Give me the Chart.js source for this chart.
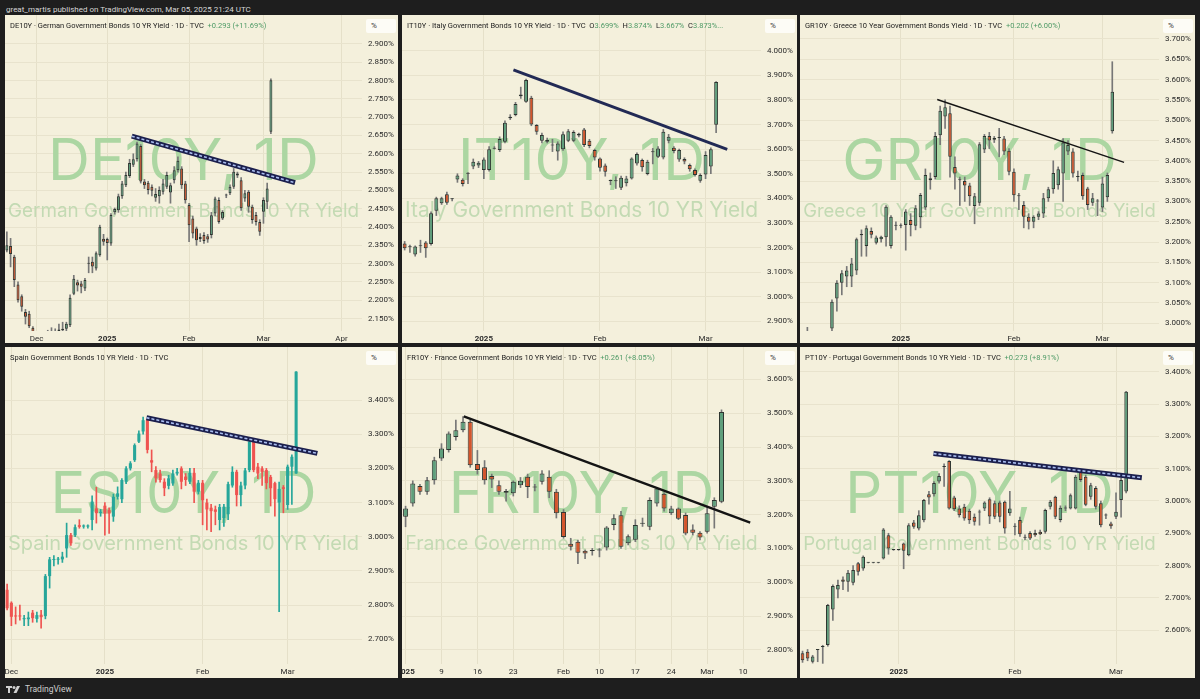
<!DOCTYPE html>
<html>
<head>
<meta charset="utf-8">
<title>Euro area 10Y bond yields</title>
<script src="https://cdn.jsdelivr.net/npm/chart.js@4.4.1/dist/chart.umd.min.js"></script>
<style>
    body{ margin:0; width:1200px; height:699px; background:#1e1e1e; overflow:hidden; font-family:Roboto, "Liberation Sans", sans-serif; }
    #pub{ position:absolute; left:6px; top:5px; font-size:8px; color:#d6d6d6; }
    .panel{ position:absolute; background:#f4f0dc; overflow:hidden; }
    .panel canvas{ position:absolute; left:0; top:0; }
    .hdr{ position:absolute; left:5px; top:6px; font-size:7.5px; color:#1c1c1c; white-space:nowrap; z-index:2; }
    .hdr .g{ color:#4e9a66; }
    .pct{ position:absolute; right:2px; top:4px; width:30px; height:14px; background:#fdfcf6; border-radius:2px; font-size:8px; color:#333; line-height:14px; text-indent:5px; z-index:2; }
    #foot{ position:absolute; left:6px; top:684px; font-size:8.5px; color:#cfcfcf; display:flex; align-items:center; gap:3px; }
</style>
</head>
<body>

<div id="pub">great_martis published on TradingView.com, Mar 05, 2025 21:24 UTC</div>

<div class="panel" id="p-de" style="left:5px;top:15px;width:393px;height:328px">
    <div class="hdr">DE10Y · German Government Bonds 10 YR Yield · 1D · TVC &nbsp;<span class="g">+0.293 (+11.69%)</span></div>
    <div class="pct">%</div>
</div>
<div class="panel" id="p-it" style="left:402px;top:15px;width:395px;height:328px">
    <div class="hdr">IT10Y · Italy Government Bonds 10 YR Yield · 1D · TVC &nbsp;O<span class="g">3.699%</span>&nbsp; H<span class="g">3.874%</span>&nbsp; L<span class="g">3.667%</span>&nbsp; C<span class="g">3.873%...</span></div>
    <div class="pct">%</div>
</div>
<div class="panel" id="p-gr" style="left:800px;top:15px;width:395px;height:328px">
    <div class="hdr">GR10Y · Greece 10 Year Government Bonds Yield · 1D · TVC &nbsp;<span class="g">+0.202 (+6.00%)</span></div>
    <div class="pct">%</div>
</div>
<div class="panel" id="p-es" style="left:5px;top:347px;width:393px;height:331px">
    <div class="hdr">Spain Government Bonds 10 YR Yield · 1D · TVC</div>
    <div class="pct">%</div>
</div>
<div class="panel" id="p-fr" style="left:402px;top:347px;width:395px;height:331px">
    <div class="hdr">FR10Y · France Government Bonds 10 YR Yield · 1D · TVC &nbsp;<span class="g">+0.261 (+8.05%)</span></div>
    <div class="pct">%</div>
</div>
<div class="panel" id="p-pt" style="left:800px;top:347px;width:395px;height:331px">
    <div class="hdr">PT10Y · Portugal Government Bonds 10 YR Yield · 1D · TVC &nbsp;<span class="g">+0.273 (+8.91%)</span></div>
    <div class="pct">%</div>
</div>

<div id="foot">
    <svg width="16" height="9" viewBox="0 0 16 9"><rect x="0" y="1" width="6" height="2" fill="#cfcfcf"/><rect x="2" y="1" width="2" height="7" fill="#cfcfcf"/><circle cx="8" cy="2.5" r="1.5" fill="#cfcfcf"/><polygon points="11,1 14,1 10.5,8 7.5,8" fill="#cfcfcf"/></svg>
    <span>TradingView</span>
</div>

<script>
// -------- Data: daily candles [open, high, low, close] in % --------

const deBars = [
    [2.336,2.387,2.332,2.350],[2.348,2.369,2.291,2.326],[2.319,2.323,2.237,2.255],[2.243,2.250,2.195,2.200],
    [2.211,2.215,2.170,2.182],[2.168,2.175,2.135,2.155],[2.163,2.170,2.125,2.129],[2.125,2.128,2.100,2.110],
    [2.090,2.112,2.050,2.060],[2.060,2.080,2.030,2.050],[2.050,2.100,2.040,2.080],[2.080,2.118,2.070,2.105],
    [2.105,2.125,2.095,2.110],[2.110,2.122,2.100,2.115],[2.115,2.135,2.105,2.120],[2.118,2.140,2.110,2.122],
    [2.122,2.140,2.115,2.136],[2.132,2.215,2.128,2.207],[2.218,2.268,2.215,2.259],[2.249,2.255,2.225,2.240],
    [2.246,2.252,2.220,2.237],[2.232,2.260,2.226,2.255],[2.301,2.318,2.275,2.300],[2.305,2.318,2.275,2.292],
    [2.287,2.332,2.282,2.328],[2.323,2.405,2.320,2.401],[2.368,2.380,2.350,2.360],[2.367,2.370,2.310,2.356],
    [2.355,2.437,2.350,2.433],[2.440,2.452,2.435,2.449],[2.446,2.490,2.440,2.484],[2.484,2.525,2.478,2.519],
    [2.514,2.550,2.510,2.542],[2.539,2.585,2.535,2.575],[2.570,2.600,2.565,2.585],[2.585,2.632,2.580,2.628],
    [2.621,2.625,2.520,2.524],[2.524,2.530,2.505,2.514],[2.521,2.525,2.490,2.501],[2.510,2.515,2.485,2.499],
    [2.480,2.505,2.470,2.490],[2.484,2.510,2.465,2.501],[2.496,2.530,2.490,2.519],[2.510,2.550,2.505,2.542],
    [2.494,2.520,2.465,2.514],[2.528,2.565,2.520,2.555],[2.555,2.592,2.550,2.581],[2.560,2.565,2.505,2.514],
    [2.519,2.525,2.465,2.473],[2.460,2.465,2.360,2.405],[2.423,2.430,2.370,2.382],[2.396,2.400,2.350,2.364],
    [2.373,2.382,2.360,2.367],[2.378,2.385,2.355,2.362],[2.375,2.380,2.358,2.366],[2.378,2.440,2.370,2.432],
    [2.437,2.482,2.430,2.478],[2.474,2.480,2.410,2.414],[2.423,2.445,2.420,2.441],[2.486,2.490,2.480,2.488],
    [2.492,2.515,2.488,2.510],[2.510,2.560,2.505,2.551],[2.546,2.550,2.535,2.541],[2.528,2.535,2.445,2.451],
    [2.478,2.500,2.470,2.492],[2.496,2.500,2.440,2.455],[2.455,2.460,2.410,2.419],[2.433,2.440,2.405,2.414],
    [2.414,2.420,2.377,2.387],[2.442,2.480,2.410,2.474],[2.469,2.520,2.450,2.505],[2.660,2.805,2.655,2.801]
];
const deTimeLabels = ['Dec', '2025', 'Feb', 'Mar', 'Apr'];
const deTimeBars = [8, 27, 49, 69, 90];
const dePriceTicks = [2.15, 2.2, 2.25, 2.3, 2.35, 2.4, 2.45, 2.5, 2.55, 2.6, 2.65, 2.7, 2.75, 2.8, 2.85, 2.9];
const deTrend = [[33.6, 2.648], [77.5, 2.521]];

const itBars = [
    [3.217,3.225,3.190,3.197],[3.204,3.210,3.180,3.201],[3.172,3.207,3.165,3.204],[3.205,3.230,3.180,3.208],
    [3.221,3.225,3.160,3.197],[3.214,3.345,3.210,3.339],[3.350,3.405,3.330,3.400],[3.380,3.405,3.375,3.400],
    [3.417,3.425,3.375,3.382],[3.396,3.400,3.390,3.397],[3.477,3.500,3.465,3.493],[3.476,3.480,3.450,3.458],
    [3.500,3.505,3.460,3.502],[3.529,3.560,3.520,3.549],[3.533,3.550,3.525,3.545],[3.515,3.565,3.480,3.558],
    [3.515,3.610,3.510,3.600],[3.602,3.610,3.600,3.604],[3.596,3.650,3.590,3.641],[3.630,3.715,3.625,3.707],
    [3.725,3.740,3.720,3.732],[3.739,3.790,3.735,3.783],[3.815,3.852,3.806,3.822],[3.793,3.885,3.790,3.881],
    [3.809,3.815,3.695,3.700],[3.698,3.700,3.660,3.671],[3.634,3.665,3.625,3.657],[3.637,3.645,3.625,3.630],
    [3.615,3.640,3.590,3.618],[3.590,3.630,3.555,3.623],[3.600,3.670,3.595,3.660],[3.634,3.680,3.630,3.673],
    [3.634,3.675,3.630,3.670],[3.655,3.665,3.650,3.662],[3.680,3.685,3.610,3.617],[3.634,3.640,3.605,3.613],
    [3.596,3.600,3.555,3.566],[3.562,3.565,3.510,3.524],[3.533,3.540,3.490,3.508],[3.470,3.475,3.455,3.471],
    [3.470,3.488,3.440,3.469],[3.443,3.490,3.435,3.484],[3.461,3.490,3.450,3.481],[3.481,3.565,3.478,3.562],
    [3.542,3.585,3.535,3.580],[3.556,3.560,3.510,3.526],[3.499,3.555,3.495,3.549],[3.587,3.603,3.540,3.588],
    [3.569,3.610,3.565,3.603],[3.566,3.680,3.560,3.671],[3.634,3.660,3.625,3.650],[3.606,3.610,3.585,3.592],
    [3.558,3.600,3.550,3.596],[3.560,3.565,3.540,3.550],[3.535,3.540,3.510,3.518],[3.515,3.520,3.490,3.495],
    [3.472,3.500,3.465,3.495],[3.497,3.590,3.480,3.576],[3.529,3.605,3.500,3.599],[3.699,3.874,3.667,3.873]
];
const itTimeLabels = ['2025', 'Feb', 'Mar'];
const itTimeBars = [15, 37, 57];
const itPriceTicks = [2.9, 3.0, 3.1, 3.2, 3.3, 3.4, 3.5, 3.6, 3.7, 3.8, 3.9, 4.0];
const itTrend = [[20.6, 3.922], [61.1, 3.599]];

const grBars = [
    [2.950,2.965,2.930,2.940],[2.940,2.990,2.930,2.960],[2.960,2.970,2.920,2.930],[2.930,2.950,2.900,2.910],
    [2.910,2.940,2.890,2.930],[2.930,2.970,2.920,2.960],[2.987,3.058,2.980,3.053],[3.061,3.105,3.030,3.100],
    [3.100,3.130,3.070,3.123],[3.115,3.140,3.090,3.130],[3.115,3.160,3.090,3.147],[3.130,3.210,3.120,3.207],
    [3.217,3.230,3.165,3.220],[3.190,3.240,3.165,3.234],[3.227,3.235,3.210,3.218],[3.198,3.215,3.195,3.211],
    [3.207,3.215,3.200,3.213],[3.212,3.290,3.190,3.287],[3.190,3.265,3.185,3.262],[3.240,3.250,3.230,3.241],
    [3.240,3.245,3.235,3.241],[3.242,3.280,3.180,3.275],[3.254,3.270,3.215,3.242],[3.240,3.290,3.230,3.283],
    [3.261,3.320,3.235,3.316],[3.285,3.380,3.280,3.365],[3.352,3.370,3.330,3.357],[3.360,3.470,3.355,3.461],
    [3.463,3.535,3.440,3.523],[3.509,3.550,3.480,3.532],[3.517,3.535,3.360,3.410],[3.385,3.410,3.330,3.369],
    [3.352,3.360,3.290,3.353],[3.350,3.360,3.300,3.339],[3.339,3.345,3.290,3.313],[3.289,3.320,3.245,3.313],
    [3.297,3.445,3.290,3.441],[3.428,3.465,3.420,3.461],[3.461,3.470,3.430,3.450],[3.452,3.460,3.445,3.456],
    [3.456,3.480,3.410,3.457],[3.455,3.460,3.415,3.423],[3.425,3.430,3.365,3.373],[3.373,3.380,3.300,3.315],
    [3.313,3.320,3.280,3.314],[3.291,3.300,3.235,3.262],[3.262,3.270,3.232,3.250],[3.250,3.265,3.235,3.262],
    [3.262,3.275,3.255,3.270],[3.270,3.320,3.260,3.308],[3.308,3.335,3.300,3.330],[3.330,3.400,3.320,3.370],
    [3.340,3.385,3.330,3.379],[3.369,3.455,3.300,3.445],[3.423,3.450,3.415,3.439],[3.423,3.430,3.360,3.369],
    [3.360,3.375,3.350,3.361],[3.365,3.370,3.305,3.313],[3.332,3.335,3.280,3.291],[3.297,3.320,3.290,3.308],
    [3.300,3.305,3.265,3.301],[3.285,3.360,3.275,3.344],[3.310,3.370,3.300,3.365],[3.473,3.644,3.468,3.570]
];
const grTimeLabels = ['2025', 'Feb', 'Mar'];
const grTimeBars = [20, 43, 61];
const grPriceTicks = [3.0, 3.05, 3.1, 3.15, 3.2, 3.25, 3.3, 3.35, 3.4, 3.45, 3.5, 3.55, 3.6, 3.65, 3.7];
const grTrend = [[27.4, 3.551], [65.4, 3.396]];

const esBars = [
    [2.845,2.862,2.786,2.791],[2.807,2.810,2.740,2.766],[2.769,2.795,2.745,2.767],[2.770,2.800,2.756,2.767],
    [2.759,2.770,2.740,2.762],[2.759,2.780,2.740,2.764],[2.778,2.785,2.750,2.762],[2.760,2.780,2.750,2.771],
    [2.772,2.785,2.733,2.765],[2.768,2.890,2.760,2.885],[2.885,2.940,2.850,2.934],[2.932,2.945,2.915,2.934],
    [2.933,2.940,2.920,2.935],[2.934,2.955,2.925,2.942],[2.966,3.040,2.940,3.005],[3.005,3.010,2.975,2.981],
    [3.005,3.035,3.000,3.028],[3.034,3.050,3.025,3.029],[3.030,3.035,3.025,3.031],[3.030,3.035,3.025,3.031],
    [3.049,3.120,3.020,3.103],[3.083,3.145,3.040,3.069],[3.070,3.080,3.060,3.072],[3.091,3.100,3.005,3.068],
    [3.078,3.085,3.010,3.068],[3.059,3.125,3.045,3.117],[3.117,3.146,3.110,3.127],[3.110,3.170,3.100,3.166],
    [3.161,3.205,3.155,3.200],[3.200,3.220,3.195,3.215],[3.224,3.272,3.220,3.268],[3.278,3.310,3.275,3.302],
    [3.308,3.350,3.300,3.341],[3.341,3.345,3.245,3.254],[3.224,3.254,3.190,3.217],[3.195,3.205,3.160,3.171],
    [3.185,3.195,3.160,3.166],[3.161,3.170,3.120,3.142],[3.149,3.180,3.140,3.171],[3.156,3.195,3.150,3.185],
    [3.185,3.200,3.180,3.190],[3.200,3.205,3.140,3.161],[3.176,3.185,3.150,3.166],[3.161,3.200,3.155,3.187],
    [3.187,3.200,3.100,3.132],[3.132,3.165,3.125,3.158],[3.158,3.165,3.035,3.107],[3.100,3.110,3.020,3.080],
    [3.085,3.095,3.015,3.075],[3.080,3.090,3.035,3.073],[3.049,3.095,3.020,3.087],[3.055,3.095,3.030,3.088],
    [3.066,3.160,3.050,3.154],[3.150,3.205,3.145,3.190],[3.190,3.195,3.090,3.122],[3.122,3.160,3.090,3.150],
    [3.150,3.200,3.140,3.194],[3.195,3.285,3.190,3.278],[3.278,3.280,3.190,3.195],[3.205,3.215,3.170,3.185],
    [3.200,3.205,3.150,3.190],[3.195,3.200,3.140,3.157],[3.175,3.180,3.090,3.142],[3.157,3.160,3.060,3.110],
    [3.100,3.160,2.781,3.140],[3.145,3.150,3.070,3.140],[3.093,3.210,3.080,3.205],[3.205,3.240,3.095,3.234],
    [3.185,3.483,3.185,3.483]
];
const esTimeLabels = ['Dec', '2025', 'Feb', 'Mar'];
const esTimeBars = [1, 23, 46, 66];
const esPriceTicks = [2.7, 2.8, 2.9, 3.0, 3.1, 3.2, 3.3, 3.4];
const esTrend = [[32.8, 3.348], [73.0, 3.244]];

const frBars = [
    [3.194,3.225,3.164,3.218],[3.233,3.300,3.225,3.292],[3.285,3.290,3.260,3.268],[3.268,3.310,3.260,3.302],
    [3.302,3.370,3.290,3.361],[3.366,3.410,3.360,3.396],[3.391,3.445,3.385,3.440],[3.430,3.480,3.420,3.450],
    [3.450,3.490,3.445,3.475],[3.475,3.480,3.340,3.346],[3.350,3.390,3.320,3.332],[3.340,3.360,3.290,3.302],
    [3.314,3.320,3.280,3.304],[3.287,3.300,3.260,3.268],[3.270,3.275,3.240,3.265],[3.263,3.300,3.255,3.297],
    [3.287,3.310,3.280,3.300],[3.312,3.320,3.250,3.282],[3.280,3.290,3.270,3.281],[3.297,3.330,3.290,3.322],
    [3.312,3.330,3.250,3.268],[3.268,3.275,3.190,3.204],[3.208,3.215,3.130,3.134],[3.114,3.130,3.095,3.105],
    [3.120,3.125,3.055,3.087],[3.093,3.095,3.070,3.085],[3.092,3.100,3.080,3.093],[3.094,3.100,3.075,3.095],
    [3.103,3.165,3.095,3.162],[3.169,3.200,3.155,3.189],[3.198,3.210,3.100,3.105],[3.115,3.140,3.110,3.136],
    [3.126,3.185,3.120,3.169],[3.173,3.190,3.165,3.175],[3.164,3.250,3.155,3.243],[3.233,3.280,3.225,3.277],
    [3.262,3.265,3.210,3.218],[3.204,3.225,3.200,3.218],[3.218,3.220,3.185,3.188],[3.199,3.205,3.140,3.144],
    [3.156,3.170,3.140,3.146],[3.146,3.150,3.125,3.132],[3.149,3.225,3.145,3.204],[3.223,3.250,3.160,3.243],
    [3.238,3.510,3.235,3.504]
];
const frTimeLabels = ['2025', '9', '16', '23', 'Feb', '10', '17', '24', 'Mar', '10'];
const frTimeBars = [0, 5, 10, 15, 22, 27, 32, 37, 42, 47];
const frPriceTicks = [2.8, 2.9, 3.0, 3.1, 3.2, 3.3, 3.4, 3.5, 3.6];
const frTrend = [[8.1, 3.491], [48.0, 3.176]];

const ptBars = [
    [2.528,2.535,2.500,2.507],[2.533,2.540,2.505,2.512],[2.502,2.522,2.498,2.518],[2.538,2.540,2.502,2.539],
    [2.548,2.553,2.497,2.549],[2.554,2.680,2.550,2.678],[2.664,2.740,2.630,2.737],[2.726,2.755,2.700,2.740],
    [2.757,2.765,2.725,2.750],[2.750,2.785,2.720,2.778],[2.747,2.800,2.740,2.786],[2.807,2.810,2.770,2.781],
    [2.791,2.830,2.785,2.827],[2.809,2.810,2.808,2.809],[2.809,2.810,2.808,2.809],[2.809,2.810,2.808,2.809],
    [2.822,2.915,2.820,2.912],[2.894,2.900,2.835,2.853],[2.848,2.849,2.847,2.848],[2.848,2.849,2.847,2.848],
    [2.868,2.870,2.790,2.846],[2.832,2.930,2.830,2.925],[2.933,2.940,2.915,2.920],[2.915,2.970,2.910,2.956],
    [2.940,3.005,2.935,3.003],[3.021,3.030,2.990,3.011],[3.021,3.060,3.015,3.056],[3.060,3.085,3.055,3.077],
    [3.105,3.115,3.045,3.107],[3.124,3.125,2.975,2.977],[3.011,3.015,2.970,2.974],[2.977,2.985,2.950,2.956],
    [2.982,2.990,2.940,2.946],[2.970,2.975,2.930,2.940],[2.951,2.960,2.925,2.936],[2.964,2.972,2.925,2.967],
    [2.977,2.998,2.970,2.995],[3.005,3.010,2.930,2.952],[2.993,3.000,2.945,2.951],[2.995,3.000,2.935,2.951],
    [2.998,3.000,2.900,2.915],[2.962,3.030,2.955,2.977],[2.920,2.930,2.895,2.921],[2.941,2.950,2.890,2.897],
    [2.886,2.895,2.880,2.887],[2.901,2.905,2.880,2.884],[2.901,2.910,2.890,2.894],[2.905,2.910,2.895,2.897],
    [2.905,2.975,2.900,2.972],[2.982,3.002,2.975,2.998],[3.013,3.015,2.945,2.951],[2.941,2.985,2.935,2.979],
    [2.977,2.985,2.970,2.978],[2.977,3.022,2.975,3.018],[2.977,3.080,2.975,3.075],[3.090,3.095,3.060,3.065],
    [3.075,3.080,2.985,2.988],[3.013,3.055,3.005,3.049],[3.040,3.045,2.975,2.982],[2.993,3.000,2.920,2.925],
    [2.955,2.960,2.945,2.957],[2.930,2.935,2.915,2.922],[2.951,3.025,2.945,2.967],[3.003,3.070,2.950,3.065],
    [3.029,3.340,3.025,3.338]
];
const ptTimeLabels = ['2025', 'Feb', 'Mar'];
const ptTimeBars = [19, 42, 62];
const ptPriceTicks = [2.6, 2.7, 2.8, 2.9, 3.0, 3.1, 3.2, 3.3, 3.4];
const ptTrend = [[25.9, 3.147], [67.1, 3.072]];

// -------- Styles --------

const CANDLE = { up:'#5f9f7c', down:'#d4552c', edge:'#2e3530', wick:'#777777', border:1 };
const CANDLE_TV = { up:'#26a69a', down:'#ef5350', edge:null, wick:null, border:0 };
const WM_BIG = '#acd6a2';
const WM_SMALL = '#c3dab3';

const panels = [
    { id:'p-de', bars:deBars, slots:96, tLabels:deTimeLabels, tBars:deTimeBars, yTicks:dePriceTicks, yMin:2.116, yMax:2.979, trend:deTrend, line:'striped', style:CANDLE, body:0.8, axisH:12, mark:['DE10Y, 1D', 'German Government Bonds 10 YR Yield'] },
    { id:'p-it', bars:itBars, slots:68, tLabels:itTimeLabels, tBars:itTimeBars, yTicks:itPriceTicks, yMin:2.861, yMax:4.145, trend:itTrend, line:'navy', style:CANDLE, body:0.74, axisH:12, mark:['IT10Y, 1D', 'Italy Government Bonds 10 YR Yield'] },
    { id:'p-gr', bars:grBars, slots:73, tLabels:grTimeLabels, tBars:grTimeBars, yTicks:grPriceTicks, yMin:2.981, yMax:3.759, trend:grTrend, line:'thin', style:CANDLE, body:0.72, axisH:12, mark:['GR10Y, 1D', 'Greece 10 Year Government Bonds Yield'] },
    { id:'p-es', bars:esBars, slots:84, tLabels:esTimeLabels, tBars:esTimeBars, yTicks:esPriceTicks, yMin:2.628, yMax:3.555, trend:esTrend, line:'striped', style:CANDLE_TV, body:0.72, axisH:14, mark:['ES10Y, 1D', 'Spain Government Bonds 10 YR Yield'] },
    { id:'p-fr', bars:frBars, slots:50, tLabels:frTimeLabels, tBars:frTimeBars, yTicks:frPriceTicks, yMin:2.758, yMax:3.696, trend:frTrend, line:'bold', style:CANDLE, body:0.7, axisH:14, mark:['FR10Y, 1D', 'France Government Bonds 10 YR Yield'] },
    { id:'p-pt', bars:ptBars, slots:71, tLabels:ptTimeLabels, tBars:ptTimeBars, yTicks:ptPriceTicks, yMin:2.495, yMax:3.477, trend:ptTrend, line:'striped', style:CANDLE, body:0.72, axisH:14, mark:['PT10Y, 1D', 'Portugal Government Bonds 10 YR Yield'] }
];

// big symbol text in the middle of the pane, under the candles
const watermark = {
    id: 'watermark',
    beforeDatasetsDraw(chart, args, opts){
        const a = chart.chartArea;
        const ctx = chart.ctx;
        const cx = (a.left + a.right) / 2;
        const cy = (a.top + a.bottom) / 2;
        ctx.save();
        ctx.textAlign = 'center';
        ctx.textBaseline = 'alphabetic';
        ctx.fillStyle = WM_BIG;
        ctx.font = '58px Inter, Roboto, sans-serif';
        ctx.fillText(opts.big, cx, cy + 7);
        ctx.font = '20px Inter, Roboto, sans-serif';
        let w = ctx.measureText(opts.small).width;
        let size = 20 * (a.right - a.left - 6) / w;
        ctx.font = size.toFixed(2) + 'px Inter, Roboto, sans-serif';
        ctx.fillStyle = WM_SMALL;
        ctx.fillText(opts.small, cx, cy + 44);
        ctx.restore();
    }
};

function trendSets(p){
    let pts = p.trend.map(t => ({ x: t[0], y: t[1] }));
    let base = { type:'line', xAxisID:'xl', yAxisID:'y', data:pts, pointRadius:0, fill:false, borderCapStyle:'butt' };
    if(p.line === 'striped'){
        return [
            Object.assign({}, base, { borderColor:'#1b1f4d', borderWidth:5, order:1 }),
            Object.assign({}, base, { borderColor:'#a9bdf0', borderWidth:1.6, borderDash:[3, 2], order:0 })
        ];
    }
    if(p.line === 'navy') return [Object.assign({}, base, { borderColor:'#222a55', borderWidth:3, order:0 })];
    if(p.line === 'bold') return [Object.assign({}, base, { borderColor:'#141414', borderWidth:2.4, order:0 })];
    return [Object.assign({}, base, { borderColor:'#141414', borderWidth:1.4, order:0 })];
}

function buildPanel(p){
    const el = document.getElementById(p.id);
    const canvas = document.createElement('canvas');
    canvas.width = el.clientWidth;
    canvas.height = el.clientHeight;
    el.insertBefore(canvas, el.firstChild);

    let labels = new Array(p.slots).fill('');
    for(let i=0; i<p.tBars.length; i++){
        labels[p.tBars[i]] = p.tLabels[i];
    }

    const s = p.style;
    let bodyFill = p.bars.map(b => b[3] >= b[0] ? s.up : s.down);
    let wickFill = p.bars.map((b, i) => s.wick || bodyFill[i]);

    new Chart(canvas, {
        data: {
            labels: labels,
            datasets: [
                { type:'bar', data: p.bars.map(b => [b[2], b[1]]), backgroundColor: wickFill, barThickness: 1, grouped: false, order: 3 },
                { type:'bar', data: p.bars.map(b => [b[0], b[3]]), backgroundColor: bodyFill,
                  borderColor: s.edge || bodyFill, borderWidth: s.border, borderSkipped: false,
                  barPercentage: p.body, categoryPercentage: 1, grouped: false, minBarLength: 1, order: 2 }
            ].concat(trendSets(p))
        },
        options: {
            responsive: false,
            animation: false,
            layout: { padding: 0, autoPadding: false },
            plugins: {
                legend: { display: false },
                tooltip: { enabled: false },
                watermark: { big: p.mark[0], small: p.mark[1] }
            },
            scales: {
                x: {
                    type: 'category',
                    offset: true,
                    border: { display: false },
                    grid: { offset: false, drawTicks: false, color: c => labels[c.index] ? '#e5e0c9' : 'rgba(0,0,0,0)' },
                    ticks: {
                        autoSkip: false, maxRotation: 0, padding: 3, color: '#2a2a2a',
                        font: c => ({ family: 'Roboto', size: 8, weight: (c.tick && c.tick.label === '2025') ? 'bold' : 'normal' })
                    },
                    afterFit: sc => { sc.height = p.axisH; sc.paddingLeft = 0; sc.paddingRight = 0; }
                },
                xl: { type: 'linear', display: false, min: -0.5, max: p.slots - 0.5 },
                y: {
                    position: 'right',
                    min: p.yMin,
                    max: p.yMax,
                    border: { display: false },
                    grid: { color: '#e8e3cd', drawTicks: false },
                    ticks: { padding: 6, color: '#2a2a2a', font: { family: 'Roboto', size: 8 }, callback: v => v.toFixed(3) + '%' },
                    afterBuildTicks: sc => { sc.ticks = p.yTicks.map(v => ({ value: v })); },
                    afterFit: sc => { sc.width = 36; sc.paddingTop = 0; sc.paddingBottom = 0; }
                }
            }
        },
        plugins: [watermark]
    });
}

document.fonts.ready.then(function(){
    panels.forEach(buildPanel);
});
</script>
</body>
</html>
